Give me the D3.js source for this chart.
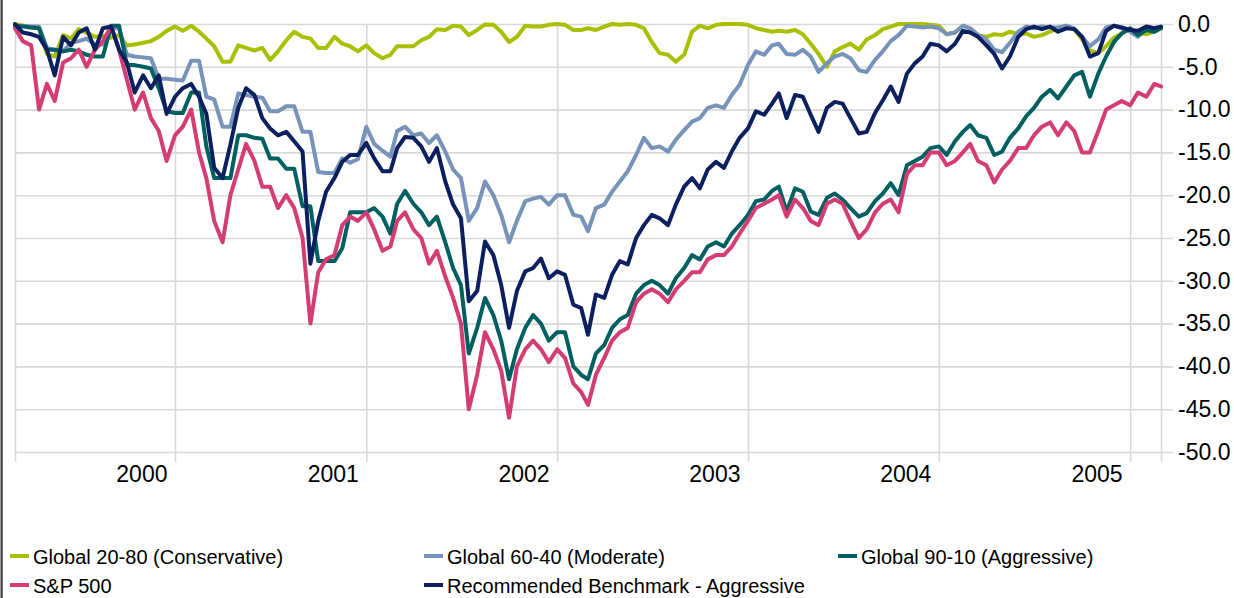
<!DOCTYPE html>
<html>
<head>
<meta charset="utf-8">
<script src="https://cdn.jsdelivr.net/npm/d3@7"></script>
<style>
  html, body { margin: 0; padding: 0; background: #fff; }
  svg { display: block; font-family: "Liberation Sans", Arial, sans-serif; }
</style>
</head>
<body>
<svg id="chart" width="1234" height="598"></svg>
<script>
// ---- DATA ----
const dates = [
"1999-03-01","1999-03-16","1999-04-01","1999-04-16","1999-05-01","1999-05-16","1999-06-01","1999-06-16","1999-07-01","1999-07-16",
"1999-08-01","1999-08-16","1999-09-01","1999-09-16","1999-10-01","1999-10-16","1999-11-01","1999-11-16","1999-12-01","1999-12-16",
"2000-01-01","2000-01-16","2000-02-01","2000-02-16","2000-03-01","2000-03-16","2000-04-01","2000-04-16","2000-05-01","2000-05-16",
"2000-06-01","2000-06-16","2000-07-01","2000-07-16","2000-08-01","2000-08-16","2000-09-01","2000-09-16","2000-10-01","2000-10-16",
"2000-11-01","2000-11-16","2000-12-01","2000-12-16","2001-01-01","2001-01-16","2001-02-01","2001-02-16","2001-03-01","2001-03-16",
"2001-04-01","2001-04-16","2001-05-01","2001-05-16","2001-06-01","2001-06-16","2001-07-01","2001-07-16","2001-08-01","2001-08-16",
"2001-09-01","2001-09-16","2001-10-01","2001-10-16","2001-11-01","2001-11-16","2001-12-01","2001-12-16","2002-01-01","2002-01-16",
"2002-02-01","2002-02-16","2002-03-01","2002-03-16","2002-04-01","2002-04-16","2002-05-01","2002-05-16","2002-06-01","2002-06-16",
"2002-07-01","2002-07-16","2002-08-01","2002-08-16","2002-09-01","2002-09-16","2002-10-01","2002-10-16","2002-11-01","2002-11-16",
"2002-12-01","2002-12-16","2003-01-01","2003-01-16","2003-02-01","2003-02-16","2003-03-01","2003-03-16","2003-04-01","2003-04-16",
"2003-05-01","2003-05-16","2003-06-01","2003-06-16","2003-07-01","2003-07-16","2003-08-01","2003-08-16","2003-09-01","2003-09-16",
"2003-10-01","2003-10-16","2003-11-01","2003-11-16","2003-12-01","2003-12-16","2004-01-01","2004-01-16","2004-02-01","2004-02-16",
"2004-03-01","2004-03-16","2004-04-01","2004-04-16","2004-05-01","2004-05-16","2004-06-01","2004-06-16","2004-07-01","2004-07-16",
"2004-08-01","2004-08-16","2004-09-01","2004-09-16","2004-10-01","2004-10-16","2004-11-01","2004-11-16","2004-12-01","2004-12-16",
"2005-01-01","2005-01-16","2005-02-01","2005-02-16","2005-03-01"
];

const global2080 = [
0,-0.2,-0.4,-0.5,-3.5,-3.8,-1.3,-1.7,-0.6,-1,
-1.5,-1.4,-1.6,-1.3,-2.5,-2.4,-2.2,-2,-1.5,-0.8,
-0.3,-0.8,-0.2,-0.9,-1.7,-2.6,-4.4,-4.4,-2.5,-2.8,
-3.1,-2.8,-4.2,-3.2,-1.9,-0.9,-1.5,-1.7,-2.8,-2.8,
-1.5,-2.3,-2.6,-3.2,-2.5,-3.4,-4,-3.6,-2.6,-2.6,
-2.6,-1.9,-1.5,-0.6,-0.7,-0.2,-0.3,-1.3,-0.7,-0.05,
-0.1,-0.9,-2.1,-1.5,-0.2,-0.3,-0.3,-0.1,0,-0.1,
-0.7,-0.7,-0.5,-0.7,-0.3,0,-0.1,0,-0.1,-0.5,
-2.1,-3.4,-3.6,-4.4,-3.6,-0.9,-0.2,-0.5,-0.1,0,
0,0,-0.1,-0.5,-0.7,-0.9,-0.8,-0.9,-0.7,-1.2,
-2.3,-3.5,-5,-3.2,-2.7,-2.3,-3,-1.8,-1.3,-0.6,
-0.3,0,0,0,0,-0.1,-0.2,-1.2,-1,-0.2,
-0.5,-1.3,-1.5,-1.2,-1.3,-0.9,-1.2,-1.1,-1.5,-1.3,
-0.9,-0.5,-0.2,-0.6,-1.8,-3.1,-3.4,-2.6,-1.6,-1.1,
-0.6,-1,-1.2,-0.9,-0.5
];

const global6040 = [
-0.2,-0.2,-0.3,-0.3,-2.8,-3,-3.2,-2.2,-2,-1.7,
-2.4,-2.4,-0.5,-0.5,-3.6,-3.8,-3.9,-4,-6.4,-6.4,
-6.5,-6.6,-4.3,-4.3,-8.5,-8.8,-12,-12,-8.1,-8.3,
-8.5,-8.6,-10.2,-10.2,-9.6,-9.6,-12.6,-12.6,-17.3,-17.4,
-17.4,-15.7,-16.2,-15.8,-12,-14,-14.8,-15.5,-12.5,-12,
-13,-12.8,-13.9,-13,-14.9,-17,-18,-23,-21.5,-18.4,
-20,-22.3,-25.5,-23,-20.7,-20.4,-20.2,-21.1,-20,-20,
-22.3,-22.5,-24.2,-21.5,-21.1,-19.6,-18.4,-17.2,-15.3,-13.3,
-14.5,-14.3,-14.9,-13.5,-12.4,-11.4,-11,-9.8,-9.5,-9.8,
-8.3,-7.1,-4.8,-3.2,-3.6,-2.5,-2.3,-3.5,-3.6,-3,
-3.8,-5.6,-4.6,-3.8,-3.5,-4,-5.4,-5.6,-4.2,-3.2,
-2,-1.3,-0.2,-0.3,-0.4,-0.3,-0.5,-1.2,-1,-0.2,
-0.5,-1.3,-1.8,-3,-3.3,-2.2,-0.9,-0.3,-0.5,-0.3,
-0.4,-0.4,-0.2,-0.5,-1.5,-2.6,-1.8,-0.4,-0.2,-0.5,
-0.9,-1.5,-0.5,-0.9,-0.4
];

const global9010 = [
-0.2,-0.3,-0.4,-0.5,-3,-3,-3.2,-3,-3.2,-3.6,
-3.8,-3.8,-0.2,-0.2,-4.8,-4.8,-5,-5.2,-7.5,-10.2,
-10.4,-10.4,-8,-8,-14.3,-18,-18,-18,-13,-13,
-13.3,-13.4,-15.7,-15.7,-16.9,-16.9,-21.3,-21.3,-27.7,-27.7,
-27.7,-26.2,-22,-22,-22,-21.5,-22.5,-24.5,-21,-19.5,
-21,-22,-23.5,-22.5,-25.5,-28.5,-30.5,-38.5,-35.5,-32,
-34,-37,-41.5,-38,-35.5,-34,-35,-37,-36,-36,
-40,-41,-41.5,-38.5,-37.5,-35.5,-34.5,-34,-31.5,-30.5,
-30,-30.5,-31.5,-29.7,-28.5,-27,-27.5,-26,-25.5,-26,
-24.5,-23.5,-22.3,-20.7,-20.5,-19.5,-19,-21.9,-19.2,-19.6,
-21.9,-22.3,-20.3,-19.8,-20.5,-21.5,-22.5,-22.1,-20.7,-19.8,
-18.6,-20,-16.5,-16,-15.5,-14.5,-14.3,-15.3,-13.7,-12.6,
-11.8,-13,-13.3,-15.3,-14.9,-13.3,-12.2,-10.8,-9.8,-8.5,
-7.7,-8.7,-7.3,-6,-5.6,-8.5,-5.8,-3.8,-2.1,-1.1,
-0.5,-1.3,-0.7,-0.9,-0.5
];

const sp500 = [
-0.5,-2,-2.5,-10,-7,-9,-4.5,-4,-3,-5,
-3,-2,-0.3,-3,-6.5,-10,-8,-11,-12.5,-16,
-13,-12,-10,-15,-18,-23,-25.5,-20,-17,-14,
-16,-19,-19,-21.5,-20,-21.5,-25,-35,-29,-27.5,
-27,-23.5,-22.5,-23,-22,-24,-26.5,-26,-23,-22,
-24,-25,-28,-26.5,-29.5,-32,-35,-45,-41,-36,
-38,-40.5,-46,-40,-38,-37,-38,-39.5,-38,-39,
-42,-43,-44.5,-41,-39,-37,-36,-35.5,-32.5,-31.5,
-31,-31.5,-32.5,-31,-30,-29,-29,-27.5,-27,-27,
-26,-24.5,-23,-21.5,-21,-20.5,-20,-22.5,-20.5,-21.5,
-23,-23.5,-21,-20.5,-21,-23,-25,-24,-22,-21,
-20.5,-22,-17.5,-16.5,-16.5,-15,-15,-16.5,-16,-15,
-14,-16,-16.5,-18.5,-17,-16,-14.5,-14.5,-13,-12,
-11.5,-13,-11.5,-12.5,-15,-15,-12.5,-10,-9.5,-9,
-9.5,-8,-8.5,-7,-7.3
];

const benchmarkAggressive = [
0,-1,-1.2,-1.5,-3,-6,-1.5,-2.5,-1,-0.5,
-3,-0.5,-0.3,-3,-4.5,-8,-6,-7.5,-6,-10.5,
-8.5,-7.5,-7,-8.5,-10.5,-16.8,-18,-14.1,-9.8,-7.5,
-8.3,-11,-12.2,-13,-12.6,-13.7,-14.9,-28,-23,-19.6,
-18,-16.1,-15.3,-15.3,-13.9,-15.7,-17.2,-17.2,-14.5,-13.2,
-13.3,-14.3,-16.1,-14.5,-18.4,-21.1,-22.7,-32.4,-31.2,-25.4,
-27,-30.5,-35.5,-31.2,-28.9,-28.5,-27.4,-29.7,-28.9,-29.3,
-32.8,-33.2,-36.3,-31.6,-32,-29.3,-27.7,-28.1,-25,-23.5,
-22.3,-22.7,-23.5,-21.1,-19,-18,-19.2,-17,-16.1,-16.8,
-14.9,-13.3,-12.2,-10.2,-10.6,-9.3,-8.1,-11,-8.3,-8.5,
-10.6,-12.6,-9.8,-9.1,-9.3,-11,-12.8,-12.6,-10.4,-8.9,
-7.3,-9.1,-5.8,-4.6,-3.8,-2.3,-2.5,-3.2,-2.3,-0.8,
-1,-1.5,-2.5,-3.5,-5.2,-3.8,-1.5,-0.6,-0.3,-0.6,
-0.3,-0.9,-0.5,-0.6,-1.5,-3.8,-3.4,-0.8,-0.2,-0.4,
-0.7,-0.8,-0.3,-0.5,-0.3
];

const seriesNames = ["Global 20-80 (Conservative)", "Global 60-40 (Moderate)", "Global 90-10 (Aggressive)", "S&P 500", "Recommended Benchmark - Aggressive"];
const seriesColors = ["#a9c000", "#7793b9", "#005f60", "#d43c74", "#0c1f5e"];
const yTicks = [0, -5, -10, -15, -20, -25, -30, -35, -40, -45, -50];
const yearTicks = ["2000-01-01", "2001-01-01", "2002-01-01", "2003-01-01", "2004-01-01", "2005-01-01"];
const yearLabels = ["2000", "2001", "2002", "2003", "2004", "2005"];

// ---- CHART ----
(function () {
  const parse = d3.timeParse("%Y-%m-%d");
  const xDates = dates.map(parse);
  const seriesValues = [global2080, global6040, global9010, sp500, benchmarkAggressive];

  const svg = d3.select("#chart");
  const pL = 15, pR = 1161, pT = 24, pB = 452;

  const x = d3.scaleTime().domain([parse("1999-03-01"), parse("2005-03-01")]).range([pL, pR]);
  const y = d3.scaleLinear().domain([-50, 0]).range([pB, pT]);

  // left frame line
  svg.append("line").attr("x1", 1.6).attr("x2", 1.6).attr("y1", 0).attr("y2", 598)
    .attr("stroke", "#3c3c3c").attr("stroke-width", 2.2);

  // Y axis (right) with gridlines
  const yAxisG = svg.append("g").attr("transform", "translate(1173,0)")
    .call(d3.axisRight(y).tickValues(yTicks).tickSize(-(1173 - pL)).tickPadding(5)
      .tickFormat(d => d.toFixed(1)));
  yAxisG.select(".domain").remove();
  yAxisG.selectAll(".tick line").attr("stroke", "#d9d9d9").attr("stroke-width", 1.6);
  yAxisG.selectAll(".tick text").attr("font-size", 23).attr("fill", "#000")
    .attr("font-family", "'Liberation Sans', Arial, sans-serif");

  // X axis with vertical gridlines
  const fmt = d3.timeFormat("%Y-%m-%d");
  const xTickDates = [x.domain()[0]].concat(yearTicks.map(parse)).concat([x.domain()[1]]);
  const xAxisG = svg.append("g").attr("transform", "translate(0,462)")
    .call(d3.axisBottom(x).tickValues(xTickDates).tickSize(-(462 - pT)).tickPadding(4)
      .tickFormat(d => {
        const i = yearTicks.indexOf(fmt(d));
        return i >= 0 ? yearLabels[i] : "";
      }));
  xAxisG.select(".domain").remove();
  xAxisG.selectAll(".tick line").attr("stroke", "#d9d9d9").attr("stroke-width", 1.6);
  xAxisG.selectAll(".tick text").attr("font-size", 23).attr("fill", "#000")
    .attr("text-anchor", "end").attr("dx", -8)
    .attr("font-family", "'Liberation Sans', Arial, sans-serif");

  // lines
  const line = d3.line().x((d, i) => x(xDates[i])).y(d => y(d)).curve(d3.curveLinear);
  const linesG = svg.append("g");
  seriesValues.forEach((vals, si) => {
    linesG.append("path").datum(vals)
      .attr("fill", "none")
      .attr("stroke", seriesColors[si])
      .attr("stroke-width", 4)
      .attr("stroke-linejoin", "round")
      .attr("stroke-linecap", "round")
      .attr("d", line);
  });

  // legend
  const legendPos = [[10, 564], [424, 564], [838, 564], [10, 593], [424, 593]];
  const lg = svg.append("g");
  seriesNames.forEach((name, i) => {
    const lx = legendPos[i][0], ly = legendPos[i][1];
    lg.append("line").attr("x1", lx).attr("x2", lx + 19).attr("y1", ly - 8).attr("y2", ly - 8)
      .attr("stroke", seriesColors[i]).attr("stroke-width", 4);
    lg.append("text").attr("x", lx + 23).attr("y", ly).text(name)
      .attr("font-size", 20).attr("fill", "#000");
  });
})();
</script>
</body>
</html>
